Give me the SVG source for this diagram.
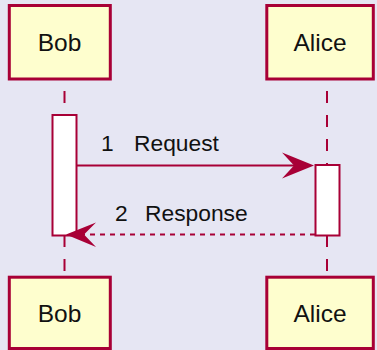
<svg xmlns="http://www.w3.org/2000/svg" width="377" height="350" viewBox="0 0 377 350">
  <style>
    .bg { fill: #E6E6F3; }
    .participant rect { fill: #FEFECE; stroke: #A80036; stroke-width: 3; }
    .participant text { font-family: "Liberation Sans", Arial, sans-serif; font-size: 24.5px; fill: #111; text-anchor: middle; }
    .lifeline { stroke: #A80036; stroke-width: 2; stroke-dasharray: 12 12; fill: none; }
    .activation { fill: #FFFFFF; stroke: #A80036; stroke-width: 2; }
    .msg { stroke: #A80036; stroke-width: 2; fill: none; }
    .msg.reply { stroke-dasharray: 5 5; }
    .head { fill: #A80036; stroke: none; }
    .label { font-family: "Liberation Sans", Arial, sans-serif; font-size: 22.8px; fill: #111; }
  </style>

  <rect class="bg" x="0" y="0" width="377" height="350"/>

  <!-- lifelines -->
  <g id="lifelines">
    <line class="lifeline" x1="64.5" y1="91" x2="64.5" y2="271"/>
    <line class="lifeline" x1="327" y1="91" x2="327" y2="271"/>
  </g>

  <!-- activation bars -->
  <g id="activation-bob">
    <rect class="activation" x="52.5" y="115" width="24" height="120.5"/>
  </g>
  <g id="activation-alice">
    <rect class="activation" x="315.5" y="165" width="24" height="70.5"/>
  </g>

  <!-- messages -->
  <g id="connectors">
    <g id="msg-request">
      <line class="msg" x1="77" y1="165.5" x2="300" y2="165.5"/>
      <polygon class="head" points="314,165.5 282,152.5 294,165.5 282,178.5"/>
      <text class="label" x="101" y="151">1</text>
      <text class="label" x="134" y="151">Request</text>
    </g>
    <g id="msg-response">
      <line class="msg reply" x1="315" y1="234.5" x2="80" y2="234.5"/>
      <polygon class="head" points="66,234.5 96,222.5 84,234.5 96,247"/>
      <text class="label" x="115" y="221">2</text>
      <text class="label" x="145" y="221">Response</text>
    </g>
  </g>

  <!-- participants -->
  <g id="bob-top" class="participant">
    <rect x="9.3" y="5.5" width="101" height="73.5"/>
    <text x="59.5" y="50.5">Bob</text>
  </g>
  <g id="alice-top" class="participant">
    <rect x="266.8" y="5.5" width="106.5" height="73.5"/>
    <text x="320" y="50.5">Alice</text>
  </g>
  <g id="bob-bottom" class="participant">
    <rect x="9.3" y="277.2" width="101" height="71.3"/>
    <text x="59.5" y="321.5">Bob</text>
  </g>
  <g id="alice-bottom" class="participant">
    <rect x="266.8" y="277.2" width="106.5" height="71.3"/>
    <text x="320" y="321.5">Alice</text>
  </g>
</svg>
